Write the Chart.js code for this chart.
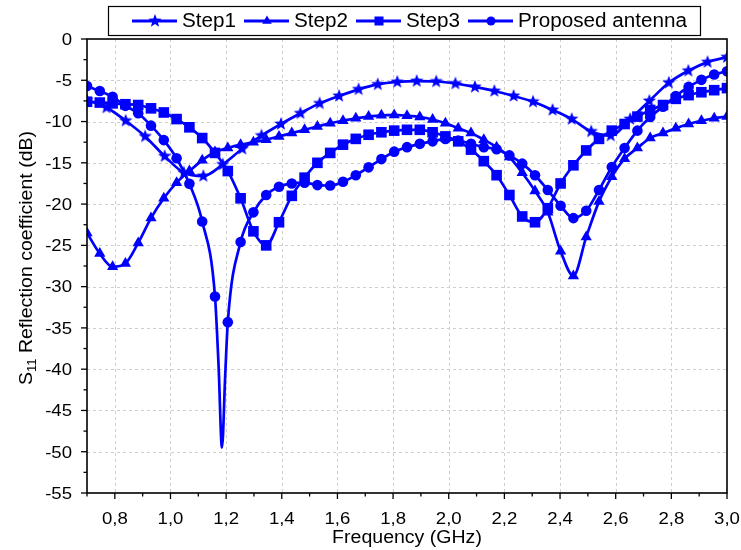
<!DOCTYPE html>
<html>
<head>
<meta charset="utf-8">
<script src="https://cdn.jsdelivr.net/npm/chart.js@4.4.1/dist/chart.umd.min.js"></script>
<style>
  html, body { margin: 0; padding: 0; background: #fff; }
  #wrap { width: 741px; height: 550px; }
</style>
</head>
<body>
<div id="wrap"><canvas id="chart" width="741" height="550"></canvas></div>
<script>
// Step1 frequencies (GHz) and S11 (dB)
const freqStep1 = [0.7, 0.77, 0.839, 0.909, 0.979, 1.048, 1.118, 1.188, 1.258, 1.327, 1.397, 1.467,
    1.536, 1.606, 1.676, 1.745, 1.815, 1.885, 1.955, 2.024, 2.094, 2.164, 2.233, 2.303, 2.373,
    2.442, 2.512, 2.582, 2.652, 2.721, 2.791, 2.861, 2.93, 3.0];
const step1 = [-7.4, -8.3, -9.9, -11.8, -14.2, -16.2, -16.6, -15.2, -13.3, -11.7, -10.3, -9.0,
    -7.8, -6.9, -6.1, -5.5, -5.2, -5.1, -5.15, -5.4, -5.8, -6.3, -6.9, -7.6, -8.6,
    -9.7, -11.2, -11.7, -9.7, -7.5, -5.3, -3.85, -2.8, -2.2];

// frequencies shared by Step2, Step3 and Proposed antenna
const freq = [0.7, 0.746, 0.792, 0.838, 0.884, 0.93, 0.976, 1.022, 1.068, 1.114, 1.16, 1.206, 1.252,
    1.298, 1.344, 1.39, 1.436, 1.482, 1.528, 1.574, 1.62, 1.666, 1.712, 1.758, 1.804,
    1.85, 1.896, 1.942, 1.988, 2.034, 2.08, 2.126, 2.172, 2.218, 2.264, 2.31, 2.356, 2.402,
    2.448, 2.494, 2.54, 2.586, 2.632, 2.678, 2.724, 2.77, 2.816, 2.862, 2.908, 2.954, 3.0];
const step2 = [-23.5, -26.0, -27.6, -27.2, -24.7, -21.7, -19.3, -17.4, -16.0, -14.7, -13.7, -13.2, -12.8,
    -12.5, -12.2, -11.8, -11.4, -11.0, -10.6, -10.2, -9.9, -9.6, -9.4, -9.25, -9.2,
    -9.3, -9.45, -9.75, -10.2, -10.8, -11.4, -12.2, -13.1, -14.3, -16.2, -18.4, -21.0, -25.7,
    -28.7, -24.0, -19.7, -16.7, -14.5, -13.2, -12.0, -11.4, -10.8, -10.3, -9.9, -9.6, -9.4];
const step3 = [-7.6, -7.7, -7.8, -7.9, -8.0, -8.4, -8.9, -9.7, -10.7, -12.0, -13.8, -16.0, -19.3,
    -23.3, -25.0, -22.2, -19.0, -16.8, -15.0, -13.8, -12.8, -12.1, -11.6, -11.3, -11.1,
    -11.0, -11.0, -11.3, -11.8, -12.4, -13.4, -14.8, -16.5, -18.9, -21.5, -22.2, -20.5, -17.5,
    -15.3, -13.5, -12.1, -11.1, -10.3, -9.4, -8.6, -8.0, -7.25, -6.8, -6.45, -6.2, -5.95];
const proposed = [-5.7, -6.3, -7.0, -8.1, -9.0, -10.5, -12.25, -14.45, -17.55, -22.1, -31.2, -34.3, -24.6,
    -21.0, -18.9, -17.9, -17.5, -17.4, -17.7, -17.75, -17.3, -16.5, -15.55, -14.55, -13.65,
    -13.1, -12.7, -12.4, -12.1, -12.3, -12.7, -13.1, -13.35, -14.1, -15.1, -16.5, -18.3, -20.2,
    -21.7, -20.8, -18.3, -15.5, -13.2, -11.1, -9.45, -8.2, -6.9, -5.8, -4.95, -4.3, -3.9];
// resonance of the proposed antenna, sampled between markers
const proposedDipFreq = [1.173, 1.185, 1.197];
const proposedDip = [-39.7, -49.5, -40.5];

const seriesNames = ['Step1', 'Step2', 'Step3', 'Proposed antenna'];
const xTicks = [0.8, 1.0, 1.2, 1.4, 1.6, 1.8, 2.0, 2.2, 2.4, 2.6, 2.8, 3.0];
const yTicks = [-55, -50, -45, -40, -35, -30, -25, -20, -15, -10, -5, 0];

const BLUE = '#0000ff';
const FONT = '"Liberation Sans", Arial, sans-serif';

// filled five point star used as marker
function starImage(r) {
    const c = document.createElement('canvas');
    const s = Math.ceil(r * 2 + 2);
    c.width = s; c.height = s;
    const g = c.getContext('2d');
    g.fillStyle = BLUE;
    g.beginPath();
    for (let i = 0; i < 10; i++) {
        const rad = i % 2 === 0 ? r : r * 0.42;
        const a = -Math.PI / 2 + i * Math.PI / 5;
        const px = s / 2 + rad * Math.cos(a), py = s / 2 + rad * Math.sin(a);
        if (i === 0) g.moveTo(px, py); else g.lineTo(px, py);
    }
    g.closePath();
    g.fill();
    return c;
}
const star = starImage(7);

function toPoints(xs, ys) {
    return xs.map((x, i) => ({ x: x, y: ys[i] }));
}

const proposedPts = toPoints(freq, proposed)
    .concat(proposedDipFreq.map((x, i) => ({ x: x, y: proposedDip[i], noMarker: true })))
    .sort((a, b) => a.x - b.x);

function series(label, data, style, radius) {
    return {
        label: label,
        data: data,
        borderColor: BLUE,
        backgroundColor: BLUE,
        borderWidth: 2.7,
        pointStyle: style,
        pointRadius: ctx => (ctx.raw && ctx.raw.noMarker ? 0 : radius),
        pointBorderWidth: 0,
        pointBackgroundColor: BLUE,
        cubicInterpolationMode: 'monotone',
        fill: false
    };
}

const datasets = [
    series(seriesNames[0], toPoints(freqStep1, step1), star, 7),
    series(seriesNames[1], toPoints(freq, step2), 'triangle', 6.5),
    series(seriesNames[2], toPoints(freq, step3), 'rect', 7.5),
    series(seriesNames[3], proposedPts, 'circle', 5.3)
];

function fmtX(v) {
    return v.toFixed(1).replace('.', ',');
}

// text a little wider than the font, like the original export
function wideText(ctx, text, x, y, align, stretch) {
    ctx.save();
    ctx.translate(x, y);
    ctx.scale(stretch, 1);
    ctx.textAlign = align;
    ctx.fillText(text, 0, 0);
    ctx.restore();
}

// grid, frame, ticks, axis titles and legend
const framePlugin = {
    id: 'frame',
    beforeDatasetsDraw(chart) {
        const { ctx, chartArea: a, scales: { x, y } } = chart;
        ctx.save();
        ctx.strokeStyle = '#cfcfcf';
        ctx.lineWidth = 1;
        ctx.setLineDash([3, 3]);
        xTicks.forEach(v => {
            const px = Math.round(x.getPixelForValue(v)) + 0.5;
            if (px > a.right - 2) return;
            ctx.beginPath(); ctx.moveTo(px, a.top); ctx.lineTo(px, a.bottom); ctx.stroke();
        });
        yTicks.forEach(v => {
            const py = Math.round(y.getPixelForValue(v)) + 0.5;
            if (py < a.top + 2 || py > a.bottom - 2) return;
            ctx.beginPath(); ctx.moveTo(a.left, py); ctx.lineTo(a.right, py); ctx.stroke();
        });
        ctx.restore();
    },
    afterDraw(chart) {
        const { ctx, chartArea: a, scales: { x, y } } = chart;
        ctx.save();
        ctx.strokeStyle = '#000';
        ctx.lineWidth = 1.6;
        ctx.strokeRect(a.left, a.top, a.right - a.left, a.bottom - a.top);

        // tick marks, outward
        ctx.lineWidth = 1.3;
        const xMinor = [xTicks[0] - 0.1].concat(xTicks.slice(1).map((v, i) => (v + xTicks[i]) / 2));
        xTicks.forEach(v => {
            const px = x.getPixelForValue(v);
            ctx.beginPath(); ctx.moveTo(px, a.bottom); ctx.lineTo(px, a.bottom + 6); ctx.stroke();
        });
        xMinor.forEach(v => {
            const px = x.getPixelForValue(v);
            ctx.beginPath(); ctx.moveTo(px, a.bottom); ctx.lineTo(px, a.bottom + 3.5); ctx.stroke();
        });
        yTicks.forEach(v => {
            const py = y.getPixelForValue(v);
            ctx.beginPath(); ctx.moveTo(a.left, py); ctx.lineTo(a.left - 6, py); ctx.stroke();
        });
        yTicks.slice(1).forEach((v, i) => {
            const py = y.getPixelForValue((v + yTicks[i]) / 2);
            ctx.beginPath(); ctx.moveTo(a.left, py); ctx.lineTo(a.left - 3.5, py); ctx.stroke();
        });

        // tick labels
        ctx.fillStyle = '#000';
        ctx.font = '16px ' + FONT;
        ctx.textBaseline = 'alphabetic';
        xTicks.forEach(v => {
            wideText(ctx, fmtX(v), x.getPixelForValue(v), a.bottom + 30.5, 'center', 1.16);
        });
        yTicks.forEach(v => {
            wideText(ctx, String(v), a.left - 15, y.getPixelForValue(v) + 5.8, 'right', 1.16);
        });

        // axis titles
        ctx.font = '18px ' + FONT;
        ctx.textBaseline = 'middle';
        wideText(ctx, 'Frequency (GHz)', (a.left + a.right) / 2, 538, 'center', 1.085);

        ctx.save();
        ctx.translate(31.5, 258);
        ctx.rotate(-Math.PI / 2);
        ctx.scale(1.085, 1);
        ctx.textBaseline = 'alphabetic';
        ctx.textAlign = 'left';
        const big = '18px ' + FONT, small = '12px ' + FONT;
        ctx.font = big;
        const wS = ctx.measureText('S').width;
        const rest = ' Reflection coefficient (dB)';
        const wR = ctx.measureText(rest).width;
        ctx.font = small;
        const wSub = ctx.measureText('11').width;
        let cx = -(wS + wSub + wR) / 2;
        ctx.font = big;
        ctx.fillText('S', cx, 0);
        cx += wS;
        ctx.font = small;
        ctx.fillText('11', cx, 4);
        cx += wSub;
        ctx.font = big;
        ctx.fillText(rest, cx, 0);
        ctx.restore();

        // legend
        ctx.fillStyle = '#fff';
        ctx.fillRect(108, 6, 592, 29);
        ctx.lineWidth = 1.2;
        ctx.strokeStyle = '#000';
        ctx.strokeRect(108.5, 6.5, 592, 29);
        const starts = [132, 244, 356, 468];
        const ly = 21;
        ctx.font = '19.5px ' + FONT;
        ctx.textBaseline = 'middle';
        chart.data.datasets.forEach((ds, i) => {
            const x0 = starts[i];
            ctx.strokeStyle = BLUE;
            ctx.lineWidth = 3;
            ctx.beginPath(); ctx.moveTo(x0, ly); ctx.lineTo(x0 + 45, ly); ctx.stroke();
            const el = chart.getDatasetMeta(i).data[0];
            ctx.save();
            ctx.fillStyle = BLUE;
            Chart.helpers.drawPoint(ctx, {
                pointStyle: ds.pointStyle,
                radius: el.options.radius * 0.85,
                borderWidth: 0,
                rotation: 0
            }, x0 + 23, ly);
            ctx.restore();
            ctx.fillStyle = '#000';
            wideText(ctx, ds.label, x0 + 50, ly + 1, 'left', 1.06);
        });
        ctx.restore();
    }
};

new Chart(document.getElementById('chart'), {
    type: 'line',
    data: { datasets: datasets },
    options: {
        responsive: false,
        animation: false,
        devicePixelRatio: 1,
        layout: { padding: { top: 39, right: 14, left: 0, bottom: 0 } },
        plugins: { legend: { display: false }, tooltip: { enabled: false } },
        scales: {
            x: {
                type: 'linear',
                min: 0.7,
                max: 3.0,
                afterBuildTicks: s => { s.ticks = xTicks.map(v => ({ value: v })); },
                afterFit: s => { s.height = 57; s.paddingLeft = 0; s.paddingRight = 0; },
                grid: { display: false, drawTicks: false },
                border: { display: false },
                ticks: { display: false }
            },
            y: {
                type: 'linear',
                min: -55,
                max: 0,
                afterBuildTicks: s => { s.ticks = yTicks.map(v => ({ value: v })); },
                afterFit: s => { s.width = 87; s.paddingTop = 0; s.paddingBottom = 0; },
                grid: { display: false, drawTicks: false },
                border: { display: false },
                ticks: { display: false }
            }
        }
    },
    plugins: [framePlugin]
});
</script>
</body>
</html>
